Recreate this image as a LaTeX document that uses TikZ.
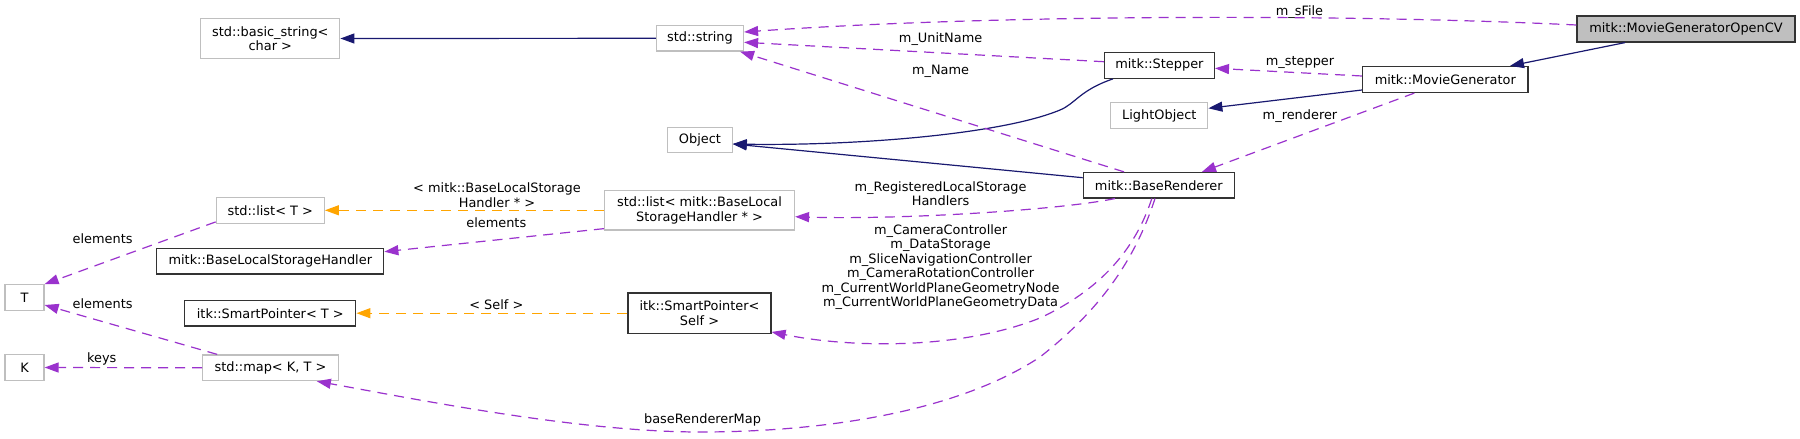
\documentclass[tikz,border=0pt]{standalone}
\usepackage{fontspec}
\setmainfont{DejaVu Sans}
\usetikzlibrary{arrows.meta,calc}
\definecolor{inh}{RGB}{25,25,112}
\definecolor{usep}{RGB}{154,50,205}
\definecolor{tmpl}{RGB}{255,165,0}
\definecolor{gbord}{RGB}{191,191,191}
\definecolor{ocvfill}{RGB}{191,191,191}
\begin{document}
\begin{tikzpicture}[x=1pt,y=-1pt,
  font=\fontsize{12.9}{14.5}\selectfont,
  cls/.style={rectangle,inner sep=0pt,align=center,fill=white,line width=1.2pt,text=black},
  ext/.style={cls,draw=gbord},
  doc/.style={cls,draw=black!80},
  lbl/.style={inner sep=0pt,align=center,text=black},
  tip/.style={-{Triangle[length=14pt,width=10pt]}},
  inherit/.style={tip,draw=inh,line width=1.2pt},
  useedge/.style={tip,draw=usep,line width=1.2pt,dash pattern=on 10pt off 7pt},
  tmpledge/.style={tip,draw=tmpl,line width=1.2pt,dash pattern=on 10pt off 7pt}
]
\useasboundingbox[fill=white] (0,0) rectangle (1800,439);

% nodes
\node[doc,fill=ocvfill,minimum width=218pt,minimum height=26pt] (ocv) at (1686,29) {mitk::MovieGeneratorOpenCV};
\node[doc,minimum width=165.5pt,minimum height=26pt] (mg) at (1445.3,79.5) {mitk::MovieGenerator};
\node[doc,minimum width=110pt,minimum height=26pt] (stepper) at (1159.4,65.3) {mitk::Stepper};
\node[ext,minimum width=97pt,minimum height=26pt] (light) at (1159.3,115.5) {LightObject};
\node[doc,minimum width=151pt,minimum height=25.5pt] (br) at (1158.8,185.2) {mitk::BaseRenderer};
\node[ext,minimum width=87pt,minimum height=25.5pt] (str) at (700,38.3) {std::string};
\node[ext,minimum width=139pt,minimum height=40.5pt] (bstr) at (270.3,38.5) {std::basic\_string<\\char >};
\node[ext,minimum width=64.3pt,minimum height=25.7pt] (obj) at (700,140) {Object};
\node[ext,minimum width=190pt,minimum height=39.5pt] (listbl) at (699.5,210.3) {std::list< mitk::BaseLocal\\StorageHandler * >};
\node[ext,minimum width=108pt,minimum height=26pt] (listT) at (270.3,210.3) {std::list< T >};
\node[doc,minimum width=227pt,minimum height=25.7pt] (blsh) at (270.3,261.2) {mitk::BaseLocalStorageHandler};
\node[doc,minimum width=171pt,minimum height=25.7pt] (spT) at (270.3,313.2) {itk::SmartPointer< T >};
\node[doc,minimum width=143pt,minimum height=40.3pt] (spS) at (699.5,313.2) {itk::SmartPointer<\\Self >};
\node[ext,minimum width=39pt,minimum height=25.5pt] (T) at (24.5,297.5) {T};
\node[ext,minimum width=39pt,minimum height=25.5pt] (K) at (24.5,367.5) {K};
\node[ext,minimum width=135.5pt,minimum height=25.7pt] (map) at (270.5,367.8) {std::map< K, T >};

% edges
\draw[inherit] (str.west) -- (bstr.east);
\draw[inherit] ($(ocv.south)+(-61,0)$) -- ($(mg.north)+(64.7,0)$);
\draw[useedge] ($(ocv.west)+(0,-4)$) .. controls (1350,14) and (1000,14) .. ($(str.east)+(0,-6.3)$);
\draw[useedge] ($(stepper.west)+(0,-3.6)$) -- ($(str.east)+(0,4)$);
\draw[useedge] ($(mg.west)+(0,-3.5)$) -- ($(stepper.east)+(0,3)$);
\draw[inherit] ($(mg.west)+(0,10.5)$) -- ($(light.east)+(0,-7.2)$);
\draw[useedge] ($(mg.south)+(-31,0)$) -- ($(br.north)+(43.2,0)$);
\draw[inherit] ($(stepper.south)+(-46.4,0)$) .. controls (1080,90) and (1075,104) .. (1060,110) .. controls (1000,135) and (850,146) .. ($(obj.east)+(0,4)$);
\draw[inherit] ($(br.west)+(0,-7.5)$) -- ($(obj.east)+(0,4)$);
\draw[useedge] ($(br.north)+(-34.8,0)$) -- ($(str.south east)+(-4,0)$);
\draw[useedge] ($(br.south)+(-43.8,0)$) .. controls (1060,210) and (900,220) .. ($(listbl.east)+(0,6.4)$);
\draw[tmpledge] (listbl.west) -- (listT.east);
\draw[useedge] ($(listbl.south west)+(0,-2)$) -- ($(blsh.east)+(0,-9.5)$);
\draw[useedge] ($(listT.south west)+(0,-2)$) -- (T.north east);
\draw[useedge] ($(map.north west)+(15,0)$) -- ($(T.east)+(0,7.5)$);
\draw[useedge] (map.west) -- (K.east);
\draw[tmpledge] (spS.west) -- (spT.east);
\draw[useedge] ($(br.south)+(-7,0)$) .. controls (1135,250) and (1100,290) .. (1040,318) .. controls (960,350) and (850,348) .. ($(spS.south east)+(0,-2)$);
\draw[useedge] ($(br.south)+(-3.8,0)$) .. controls (1135,260) and (1100,310) .. (1040,357) .. controls (960,410) and (830,432) .. (700,432) .. controls (580,432) and (420,400) .. ($(map.south east)+(-22,0)$);

% labels
\node[lbl] (l1) at (1299.5,11.7) {m\_sFile};
\node[lbl] (l2) at (940.6,39) {m\_UnitName};
\node[lbl] (l3) at (940.6,71.7) {m\_Name};
\node[lbl] (l4) at (1300,62.7) {m\_stepper};
\node[lbl] (l5) at (1300,115.7) {m\_renderer};
\node[lbl] (l6) at (940.6,193.7) {m\_RegisteredLocalStorage\\Handlers};
\node[lbl] (l7) at (497,195) {< mitk::BaseLocalStorage\\Handler * >};
\node[lbl] (l8) at (496.3,222.7) {elements};
\node[lbl] (l9) at (102.6,238.3) {elements};
\node[lbl] (l10) at (102.6,303.3) {elements};
\node[lbl] (l11) at (101.8,359.3) {keys};
\node[lbl] (l12) at (496.3,304.3) {< Self >};
\node[lbl] (l13) at (940.6,267) {m\_CameraController\\m\_DataStorage\\m\_SliceNavigationController\\m\_CameraRotationController\\m\_CurrentWorldPlaneGeometryNode\\m\_CurrentWorldPlaneGeometryData};
\node[lbl] (l14) at (702.5,420) {baseRendererMap};
\end{tikzpicture}
\end{document}
